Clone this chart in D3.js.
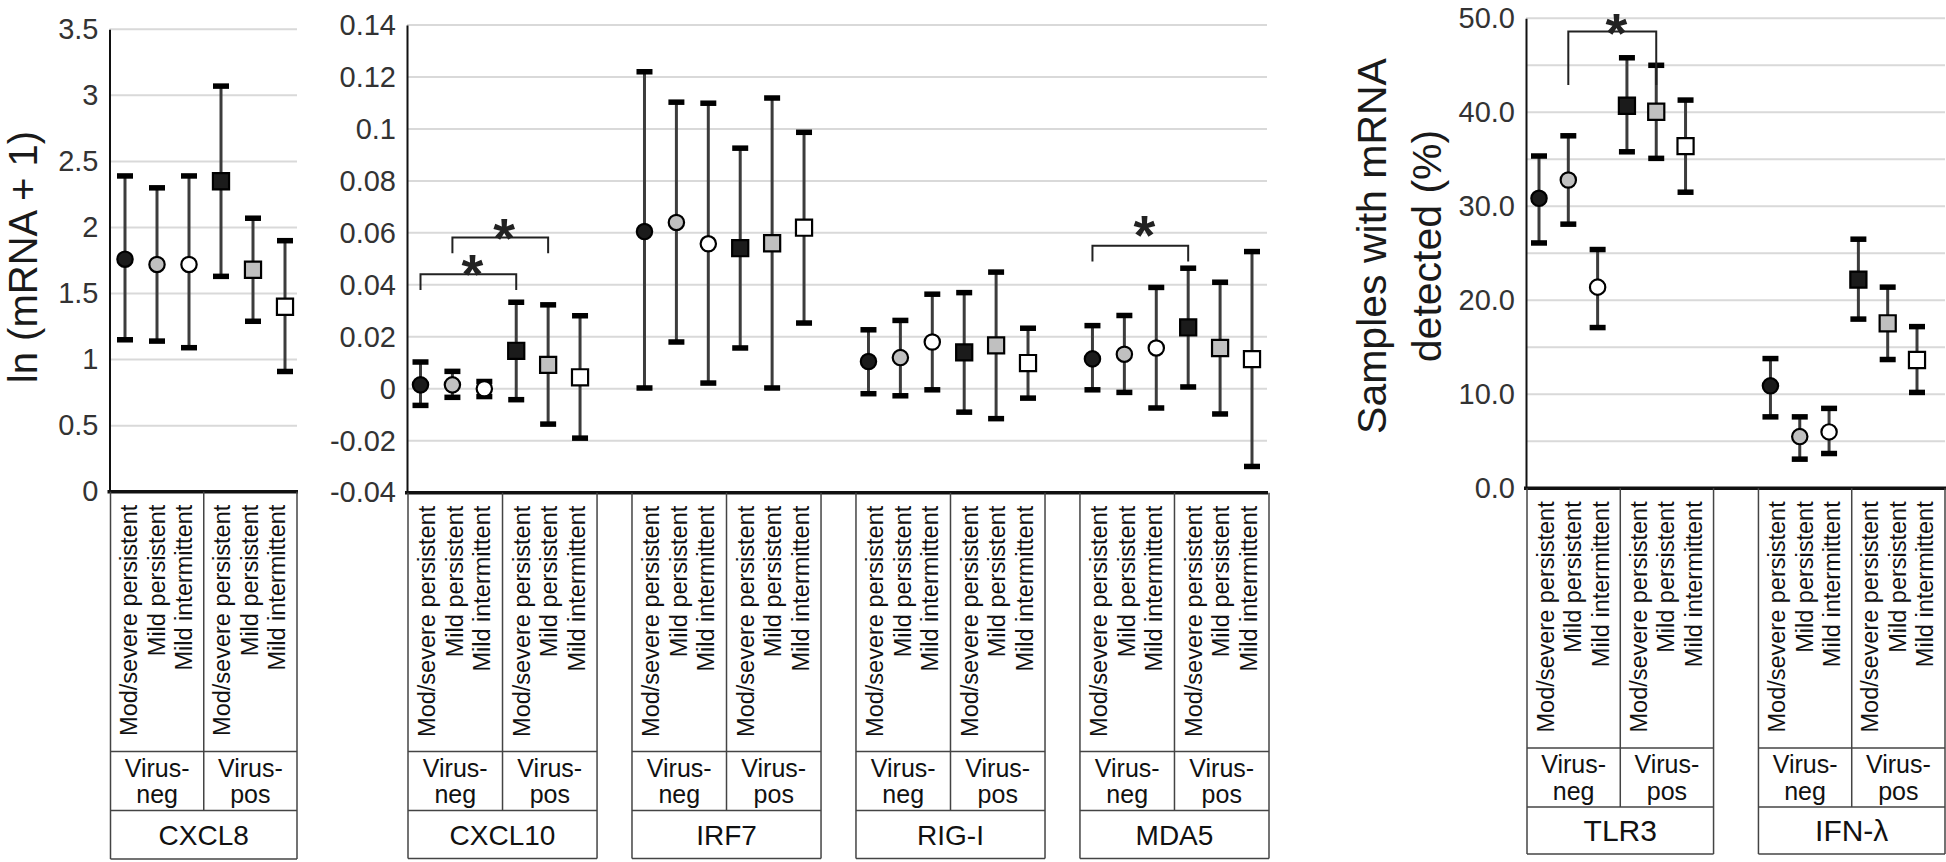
<!DOCTYPE html>
<html>
<head>
<meta charset="utf-8">
<script src="https://cdn.jsdelivr.net/npm/d3@7"></script>
<style>
  body { margin: 0; background: #fff; }
  svg { display: block; }
  text { font-family: "Liberation Sans", Arial, sans-serif; }
</style>
</head>
<body>
<svg id="chart" width="1946" height="862"></svg>
<script>
// ---------------- DATA ----------------
const severities = ["Mod/severe persistent", "Mild persistent", "Mild intermittent"];
const virusLabels = [["Virus-", "neg"], ["Virus-", "pos"]];
const categories = [0, 1, 2, 3, 4, 5]; // 3 severities x (virus-neg, virus-pos)

const panel1Genes = ["CXCL8"];
const panel2Genes = ["CXCL10", "IRF7", "RIG-I", "MDA5"];
const panel3Genes = ["TLR3", "IFN-λ"];

const CXCL8_mean  = [1.76, 1.72, 1.72, 2.35, 1.68, 1.40];
const CXCL8_lower = [1.15, 1.14, 1.09, 1.63, 1.29, 0.91];
const CXCL8_upper = [2.39, 2.30, 2.39, 3.07, 2.07, 1.90];

const CXCL10_mean  = [0.0015, 0.0015, 0.0000, 0.0146, 0.0092, 0.0044];
const CXCL10_lower = [-0.0064, -0.0033, -0.0030, -0.0042, -0.0136, -0.0190];
const CXCL10_upper = [0.0103, 0.0067, 0.0028, 0.0333, 0.0323, 0.0281];

const IRF7_mean  = [0.0605, 0.0640, 0.0558, 0.0541, 0.0560, 0.0620];
const IRF7_lower = [0.0003, 0.0180, 0.0022, 0.0157, 0.0003, 0.0253];
const IRF7_upper = [0.1220, 0.1103, 0.1099, 0.0926, 0.1119, 0.0987];

const RIGI_mean  = [0.0105, 0.0120, 0.0180, 0.0140, 0.0167, 0.0099];
const RIGI_lower = [-0.0019, -0.0027, -0.0004, -0.0090, -0.0115, -0.0036];
const RIGI_upper = [0.0227, 0.0263, 0.0364, 0.0370, 0.0449, 0.0233];

const MDA5_mean  = [0.0115, 0.0133, 0.0157, 0.0236, 0.0157, 0.0114];
const MDA5_lower = [-0.0004, -0.0014, -0.0074, 0.0007, -0.0097, -0.0299];
const MDA5_upper = [0.0243, 0.0282, 0.0390, 0.0464, 0.0410, 0.0528];

const TLR3_mean  = [30.85, 32.8, 21.4, 40.7, 40.06, 36.4];
const TLR3_lower = [26.1, 28.1, 17.1, 35.8, 35.1, 31.5];
const TLR3_upper = [35.35, 37.5, 25.4, 45.8, 45.0, 41.3];

const IFNL_mean  = [10.9, 5.5, 6.0, 22.2, 17.55, 13.65];
const IFNL_lower = [7.6, 3.1, 3.7, 18.0, 13.7, 10.2];
const IFNL_upper = [13.8, 7.6, 8.5, 26.5, 21.4, 17.2];

const panel1Ticks = [0, 0.5, 1, 1.5, 2, 2.5, 3, 3.5];
const panel1TickLabels = ["0", "0.5", "1", "1.5", "2", "2.5", "3", "3.5"];
const panel2Ticks = [-0.04, -0.02, 0, 0.02, 0.04, 0.06, 0.08, 0.1, 0.12, 0.14];
const panel2TickLabels = ["-0.04", "-0.02", "0", "0.02", "0.04", "0.06", "0.08", "0.1", "0.12", "0.14"];
const panel3Ticks = [0, 10, 20, 30, 40, 50];
const panel3TickLabels = ["0.0", "10.0", "20.0", "30.0", "40.0", "50.0"];
const panel3Grid = [5, 10, 15, 20, 25, 30, 35, 40, 45, 50];

// significance brackets: gene, from category, to category, bracket level, tip level
const sigGenes = ["CXCL10", "CXCL10", "MDA5", "TLR3"];
const sigFrom  = [0, 1, 0, 1];
const sigTo    = [3, 4, 3, 4];
const sigTop   = [0.0441, 0.0582, 0.0550, 48.6];
const sigTip   = [0.0380, 0.0522, 0.0490, 42.9];
const sigGap   = [5, 4, 15, 3];

const geneData = {
  "CXCL8":  { mean: CXCL8_mean,  lower: CXCL8_lower,  upper: CXCL8_upper },
  "CXCL10": { mean: CXCL10_mean, lower: CXCL10_lower, upper: CXCL10_upper },
  "IRF7":   { mean: IRF7_mean,   lower: IRF7_lower,   upper: IRF7_upper },
  "RIG-I":  { mean: RIGI_mean,   lower: RIGI_lower,   upper: RIGI_upper },
  "MDA5":   { mean: MDA5_mean,   lower: MDA5_lower,   upper: MDA5_upper },
  "TLR3":   { mean: TLR3_mean,   lower: TLR3_lower,   upper: TLR3_upper },
  "IFN-λ":  { mean: IFNL_mean,   lower: IFNL_lower,   upper: IFNL_upper }
};

// ---------------- LAYOUT ----------------
const fills = ["#1b1b1b", "#c0c0c0", "#ffffff", "#1b1b1b", "#c0c0c0", "#ffffff"];

const panels = [
  { genes: panel1Genes, ticks: panel1Ticks, labels: panel1TickLabels, grid: panel1Ticks.slice(1),
    domain: [0, 3.5], yRange: [491.7, 29.3], axisX: 109.5, xRange: [110.5, 297], padInner: 0,
    gridRight: 297, padL: 14.5, padR: 12, rows: [751.5, 810.5, 859], geneFont: 28, virusFont: 25 },
  { genes: panel2Genes, ticks: panel2Ticks, labels: panel2TickLabels, grid: panel2Ticks.slice(1),
    domain: [-0.04, 0.14], yRange: [492.7, 25], axisX: 407, xRange: [408, 1269], padInner: 0.156,
    gridRight: 1267, padL: 12.5, padR: 17, rows: [751.5, 810.5, 858.5], geneFont: 28, virusFont: 25 },
  { genes: panel3Genes, ticks: panel3Ticks, labels: panel3TickLabels, grid: panel3Grid,
    domain: [0, 50], yRange: [488.3, 18.3], axisX: 1526, xRange: [1527, 1945], padInner: 0.194,
    gridRight: 1945, padL: 12, padR: 28, rows: [748, 807, 854], geneFont: 30, virusFont: 25 }
];

const svg = d3.select("#chart");
svg.append("rect").attr("width", 1946).attr("height", 862).attr("fill", "#fff");

const geneScales = {};

panels.forEach(p => {
  const g = svg.append("g");
  const y = d3.scaleLinear().domain(p.domain).range(p.yRange);
  const outer = d3.scaleBand().domain(p.genes).range(p.xRange).paddingInner(p.padInner).paddingOuter(0);
  const bw = outer.bandwidth();
  const baseY = y(p.domain[0]);

  // gridlines
  g.append("g").selectAll("line").data(p.grid).join("line")
    .attr("x1", p.axisX).attr("x2", p.gridRight)
    .attr("y1", d => y(d)).attr("y2", d => y(d))
    .attr("stroke", "#d9d9d9").attr("stroke-width", 2);

  // y axis
  const ax = g.append("g").attr("transform", `translate(${p.axisX},0)`)
    .call(d3.axisLeft(y).tickValues(p.ticks).tickFormat((d, i) => p.labels[i])
      .tickSize(0).tickSizeOuter(0).tickPadding(11));
  ax.select(".domain").attr("stroke", "#111").attr("stroke-width", 2);
  ax.selectAll("text").attr("font-size", 29).attr("fill", "#333")
    .attr("font-family", "'Liberation Sans', Arial, sans-serif");

  // x axis baseline
  g.append("line").attr("x1", p.axisX - 2).attr("x2", p.gridRight + 1)
    .attr("y1", baseY).attr("y2", baseY)
    .attr("stroke", "#111").attr("stroke-width", 3.5);

  p.genes.forEach(gene => {
    const x0 = outer(gene);
    const inner = d3.scalePoint().domain(categories).range([x0 + p.padL, x0 + bw - p.padR]);
    geneScales[gene] = { x: inner, y: y };
    const d = geneData[gene];
    const rows = categories.map(i => ({ i, mean: d.mean[i], lower: d.lower[i], upper: d.upper[i] }));
    const gg = g.append("g");

    // error bar stems
    gg.selectAll("line.stem").data(rows).join("line").attr("class", "stem")
      .attr("x1", r => inner(r.i)).attr("x2", r => inner(r.i))
      .attr("y1", r => y(r.lower)).attr("y2", r => y(r.upper))
      .attr("stroke", "#3c3c3c").attr("stroke-width", 3);
    // caps
    const caps = rows.flatMap(r => [{ i: r.i, v: r.lower }, { i: r.i, v: r.upper }]);
    gg.selectAll("rect.cap").data(caps).join("rect").attr("class", "cap")
      .attr("x", c => inner(c.i) - 8).attr("y", c => y(c.v) - 2.75)
      .attr("width", 16).attr("height", 5.5).attr("fill", "#000");
    // markers
    gg.selectAll("path.mk").data(rows).join("path").attr("class", "mk")
      .attr("transform", r => `translate(${inner(r.i)},${y(r.mean)})`)
      .attr("d", r => d3.symbol().type(r.i < 3 ? d3.symbolCircle : d3.symbolSquare).size(r.i < 3 ? 185 : 260)())
      .attr("fill", r => fills[r.i]).attr("stroke", "#000").attr("stroke-width", 2.2);

    // category box
    const bx = g.append("g").attr("stroke", "#444").attr("stroke-width", 1.5).attr("fill", "none");
    const vlines = [
      [x0, baseY, x0, p.rows[2]],
      [x0 + bw, baseY, x0 + bw, p.rows[2]],
      [x0 + bw / 2, baseY, x0 + bw / 2, p.rows[1]]
    ];
    const hlines = p.rows.map(ry => [x0, ry, x0 + bw, ry]);
    bx.selectAll("line").data(vlines.concat(hlines)).join("line")
      .attr("x1", l => l[0]).attr("y1", l => l[1]).attr("x2", l => l[2]).attr("y2", l => l[3]);

    // rotated severity labels
    [0, 1].forEach(h => {
      const cx = x0 + bw * (2 * h + 1) / 4;
      severities.forEach((s, j) => {
        const tx = cx + (j - 1) * 27.5 + 7.5;
        const ty = baseY + 13;
        g.append("text").attr("x", tx).attr("y", ty)
          .attr("transform", `rotate(-90,${tx},${ty})`)
          .attr("text-anchor", "end").attr("font-size", 23.5).attr("fill", "#111")
          .text(s);
      });
      const vt = g.append("text").attr("text-anchor", "middle").attr("font-size", p.virusFont).attr("fill", "#111");
      vt.append("tspan").attr("x", cx).attr("y", p.rows[0] + 25).text(virusLabels[h][0]);
      vt.append("tspan").attr("x", cx).attr("y", p.rows[0] + 51.5).text(virusLabels[h][1]);
    });
    // gene name
    g.append("text").attr("x", x0 + bw / 2)
      .attr("y", (p.rows[1] + p.rows[2]) / 2 + 0.36 * p.geneFont)
      .attr("text-anchor", "middle").attr("font-size", p.geneFont).attr("fill", "#111")
      .text(gene);
  });
});

// significance brackets
sigGenes.forEach((gene, k) => {
  const s = geneScales[gene];
  const xa = s.x(sigFrom[k]), xb = s.x(sigTo[k]);
  const yt = s.y(sigTop[k]), yp = s.y(sigTip[k]);
  svg.append("path").attr("d", `M${xa},${yp}V${yt}H${xb}V${yp}`)
    .attr("fill", "none").attr("stroke", "#222").attr("stroke-width", 2);
  const fs = 56;
  svg.append("text").attr("x", (xa + xb) / 2 + 4).attr("y", yt - sigGap[k] + 0.42 * fs)
    .attr("text-anchor", "middle").attr("font-size", fs).attr("font-weight", "bold")
    .attr("fill", "#222").text("*");
});

// axis titles
svg.append("text").attr("transform", "translate(37,257) rotate(-90)")
  .attr("text-anchor", "middle").attr("font-size", 40).attr("fill", "#1a1a1a")
  .text("ln (mRNA + 1)");
const t3 = svg.append("text").attr("transform", "translate(1386,246) rotate(-90)")
  .attr("text-anchor", "middle").attr("font-size", 41).attr("fill", "#1a1a1a");
t3.append("tspan").attr("x", 0).attr("y", 0).text("Samples with mRNA");
t3.append("tspan").attr("x", 0).attr("y", 55).text("detected (%)");
</script>
</body>
</html>
